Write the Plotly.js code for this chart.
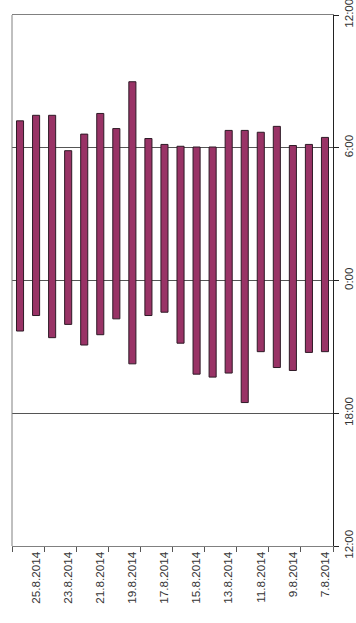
<!DOCTYPE html>
<html>
<head>
<meta charset="utf-8">
<script src="https://cdn.plot.ly/plotly-3.0.1.min.js"></script>
<style>
html,body{margin:0;padding:0;background:#fff;}
#chart{width:356px;height:623px;}
</style>
</head>
<body>
<div id="chart"></div>
<script>
// Dates, left to right
var dates = ["26.8.2014","25.8.2014","24.8.2014","23.8.2014","22.8.2014","21.8.2014","20.8.2014","19.8.2014","18.8.2014","17.8.2014",
             "16.8.2014","15.8.2014","14.8.2014","13.8.2014","12.8.2014","11.8.2014","10.8.2014","9.8.2014","8.8.2014","7.8.2014"];
// Start of bar (evening clock time)
var startTimes = ["21:43","22:25","21:25","22:01","21:05","21:33","22:16","20:14","22:25","22:34",
                  "21:10","19:46","19:38","19:49","18:29","20:47","20:04","19:56","20:45","20:47"];
// End of bar (next morning clock time)
var endTimes = ["7:13","7:28","7:28","5:52","6:37","7:33","6:52","8:59","6:25","6:09",
                "6:04","6:02","6:02","6:47","6:47","6:42","6:58","6:06","6:09","6:28"];
// Time axis labels (bottom to top)
var timeTickText = ["12:00","18:00","0:00","6:00","12:00"];
var labelDates = ["25.8.2014","23.8.2014","21.8.2014","19.8.2014","17.8.2014","15.8.2014","13.8.2014","11.8.2014","9.8.2014","7.8.2014"];

function hrs(s){var p=s.split(":");return +p[0]+(+p[1])/60;}
// hours since noon of the first day
function eveningToAxis(s){return hrs(s)-12;}
function morningToAxis(s){return hrs(s)+12;}

var xIdx = dates.map(function(d,i){return i;});
var base = startTimes.map(eveningToAxis);
var len = endTimes.map(function(e,i){return morningToAxis(e)-base[i];});

var labelIdx = labelDates.map(function(d){return dates.indexOf(d);});
var boundaries = [];
for (var b=-0.5; b<=dates.length-0.5; b+=2) boundaries.push(b);
var timeTickVals = timeTickText.map(function(t,i){return i*6;});

var trace = {
  type:"bar", x:xIdx, y:len, base:base, width:0.44,
  marker:{color:"#993366", line:{color:"#2e1a26", width:1}},
  hoverinfo:"skip"
};

var layout = {
  width:356, height:623,
  margin:{l:12, r:23, t:15, b:77, pad:0},
  paper_bgcolor:"#ffffff", plot_bgcolor:"#ffffff",
  showlegend:false,
  bargap:0,
  xaxis:{
    range:[-0.5, dates.length-0.5],
    tickmode:"array", tickvals:labelIdx, ticktext:labelDates,
    ticks:"", tickangle:-90,
    tickfont:{family:"Liberation Sans, Arial, sans-serif", size:11.7, color:"#333"},
    showgrid:false, zeroline:false,
    showline:true, linecolor:"#808080", linewidth:1, mirror:true,
    minor:{tickmode:"array", tickvals:boundaries, ticks:"outside", ticklen:5, tickcolor:"#555", tickwidth:1, showgrid:false},
    fixedrange:true
  },
  yaxis:{
    range:[0,24], side:"right",
    tickmode:"array", tickvals:timeTickVals, ticktext:timeTickText,
    tickangle:-90, ticks:"outside", ticklen:5, tickcolor:"#222",
    ticklabeloverflow:"allow",
    tickfont:{family:"Liberation Sans, Arial, sans-serif", size:11.7, color:"#333"},
    showgrid:true, gridcolor:"#555", gridwidth:1,
    zeroline:false,
    showline:true, linecolor:"#222", linewidth:1,
    fixedrange:true
  },
  shapes:[{type:"line", xref:"paper", yref:"paper", x0:0, x1:0, y0:0, y1:1, line:{color:"#808080", width:1}}]
};

Plotly.newPlot("chart",[trace],layout,{displayModeBar:false, staticPlot:true});
</script>
</body>
</html>
